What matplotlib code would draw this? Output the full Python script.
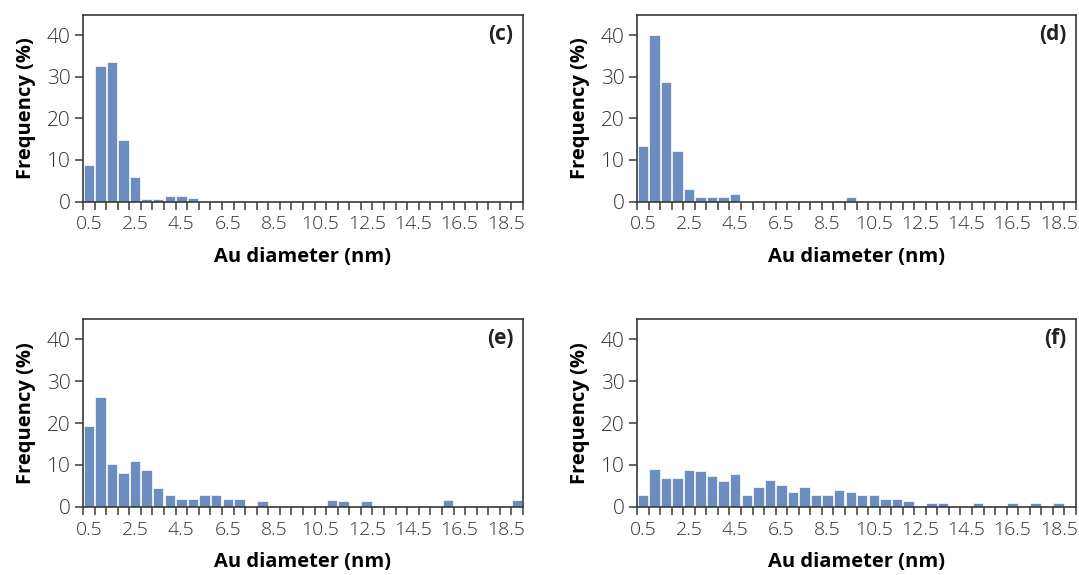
import numpy as np
import matplotlib
matplotlib.use("Agg")
import matplotlib.pyplot as plt

plt.rcParams['font.family'] = ['Open Sans', 'DejaVu Sans']

# bin labels: 0.5 nm steps, 0.5 ... 19.0
bins = [f"{0.5 + 0.5 * i:g}" for i in range(38)]

freq_c = [8.8, 32.6, 33.7, 14.8, 5.9, 0.7, 0.7, 1.3, 1.3, 0.9] + [0] * 28

freq_d = [13.4, 40.0, 28.7, 12.2, 3.1, 1.0, 1.0, 1.0, 1.8] + [0] * 9 + [1.0] + [0] * 19

freq_e = [19.4, 26.3, 10.1, 8.1, 10.9, 8.8, 4.4, 2.7, 1.8, 1.8,
          2.8, 2.8, 1.8, 1.8, 0, 1.4, 0, 0, 0, 0,
          0, 1.7, 1.4, 0, 1.4, 0, 0, 0, 0, 0,
          0, 1.6, 0, 0, 0, 0, 0, 1.5]

freq_f = [2.7, 8.9, 6.9, 6.9, 8.7, 8.5, 7.3, 6.2, 7.8, 2.7,
          4.8, 6.4, 5.3, 3.5, 4.8, 2.7, 2.7, 3.9, 3.5, 2.7,
          2.7, 1.8, 1.8, 1.4, 0, 1.0, 1.0, 0, 0, 1.0,
          0, 0, 1.0, 0, 1.0, 0, 1.0, 0]

panels = [("(c)", freq_c), ("(d)", freq_d), ("(e)", freq_e), ("(f)", freq_f)]

W, H = 1079, 575
fig = plt.figure(figsize=(W / 100, H / 100), dpi=100)

# axes boxes in pixels: left, top, right, bottom
boxes = [(83, 15, 523, 201.5), (637, 15, 1076, 201.5),
         (83, 319, 523, 506.7), (637, 319, 1076, 506.7)]

bar_color = "#6c8dbf"
spine_color = "#3a3a3a"
x = np.arange(len(bins))

for (tag, vals), (l, t, r, b) in zip(panels, boxes):
    ax = fig.add_axes([l / W, 1 - b / H, (r - l) / W, (b - t) / H])
    ax.bar(x, vals, width=0.9, color=bar_color, edgecolor="white", linewidth=0.5)
    ax.set_xlim(-0.5, len(bins) - 0.5)
    ax.set_ylim(0, 44.9)

    ax.set_xticks(x[::4])
    ax.set_xticklabels(bins[::4])
    ax.set_xticks(np.arange(-0.5, len(bins)), minor=True)
    ax.tick_params(axis="x", which="major", length=0, pad=10)
    ax.tick_params(axis="x", which="minor", length=6, width=1.1, color=spine_color)
    ax.set_yticks([0, 10, 20, 30, 40])
    ax.tick_params(axis="y", length=6, width=1.1, color=spine_color, pad=3)
    ax.tick_params(axis="x", labelsize=14)
    ax.tick_params(axis="y", labelsize=15)
    ax.tick_params(axis="both", labelcolor="#333333")
    for lab in ax.get_xticklabels() + ax.get_yticklabels():
        lab.set_fontweight("light")

    for s in ax.spines.values():
        s.set_color(spine_color)
        s.set_linewidth(1.2)

    ax.set_xlabel("Au diameter (nm)", fontsize=14.5, fontweight="bold", labelpad=10)
    ax.set_ylabel("Frequency (%)", fontsize=14.5, fontweight="bold", labelpad=8)
    ax.text(0.978, 0.95, tag, transform=ax.transAxes, ha="right", va="top",
            fontsize=15, fontweight="bold", color="#222222")

fig.savefig("out.png", dpi=100)
